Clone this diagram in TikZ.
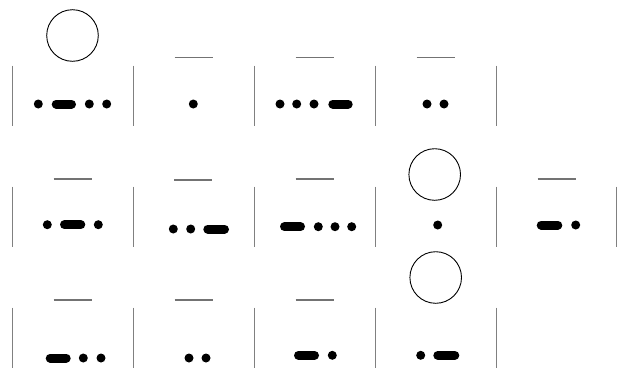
\documentclass[tikz,border=0pt]{standalone}
\begin{document}
\begin{tikzpicture}[x=1pt,y=-1pt,
  barline/.style={draw=black!50,line width=1.3pt},
  topline/.style={draw=black!55,line width=1.2pt},
  ring/.style={draw=black,line width=0.9pt},
  dotsym/.style={fill=black},
  dashsym/.style={draw=black,line width=9pt,line cap=round}]
\useasboundingbox (0,0) rectangle (617,367);
% vertical bars
\foreach \x in {12.3,133.3,254.3,375.3,496.3}{
  \draw[barline] (\x,65.7) -- (\x,125.7);
  \draw[barline] (\x,186.7) -- (\x,246.7);
  \draw[barline] (\x,307.7) -- (\x,368);
}
\draw[barline] (616.6,186.7) -- (616.6,246.7);
% short top lines
\foreach \c/\y in {193.5/57.5,314.5/57.5,435.5/57.5,
                   72.5/179,193/180,314.5/179,556.5/179,
                   72.5/300,193.5/300,314.5/300}{
  \draw[topline] (\c-19,\y) -- (\c+19,\y);
}
% circles
\draw[ring] (72.5,35.5) circle[radius=25.8];
\draw[ring] (434.7,174.5) circle[radius=25.8];
\draw[ring] (435.7,277.5) circle[radius=25.8];
% dots
\foreach \x/\y in {38.3/104,89.3/104,106.7/104,193.3/104,
                   280/104,296.7/104,314/104,427/104,444/104,
                   47.3/224.7,98.3/224.7,173.3/229,190.7/229,
                   318.3/226.7,335/226.7,351.7/226.7,437.7/225,575.7/225,
                   83.3/358,101/358,189/358,206/358,332.3/355.3,420.7/355.3}{
  \fill[dotsym] (\x,\y) circle[radius=4.5];
}
% dashes (outer extents)
\foreach \a/\b/\y in {51.7/76/104,328.3/352.7/104,
                      60/85.3/224.7,203.3/229/229,280/305/226.7,536.7/562.3/225,
                      45.7/70.7/358,294/319/355.3,433.3/459.3/355.3}{
  \draw[dashsym] (\a+4.5,\y) -- (\b-4.5,\y);
}
\end{tikzpicture}
\end{document}
